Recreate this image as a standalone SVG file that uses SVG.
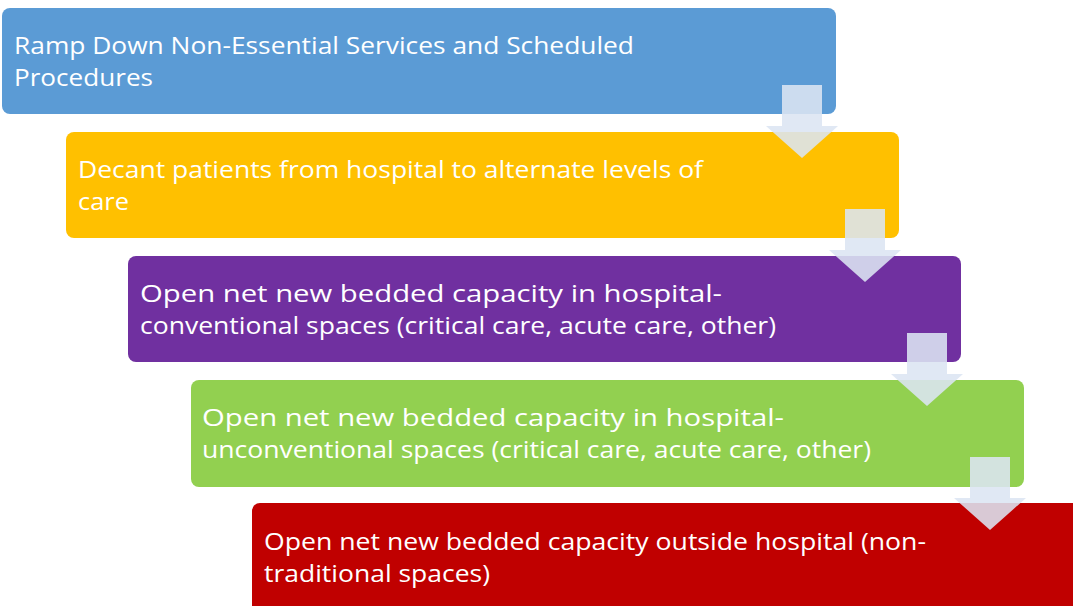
<svg xmlns="http://www.w3.org/2000/svg" width="1073" height="606" viewBox="0 0 1073 606">
<style>
.box{stroke:none}
.t{font-family:"Open Sans","Liberation Sans",sans-serif;font-size:23px;fill:#ffffff}
.arr{fill:#DCE5F3;fill-opacity:0.88}
</style>
<defs>
<path id="arrow" d="M-20,0 H20 V41 H36 L0,73 L-36,41 H-20 Z"/>
</defs>
<rect width="1073" height="606" fill="#ffffff"/>
<g id="node1">
<rect class="box" x="2" y="8" width="834" height="106" rx="8" fill="#5B9BD5"/>
<text class="t" x="14" y="54" textLength="620" lengthAdjust="spacingAndGlyphs">Ramp Down Non-Essential Services and Scheduled</text>
<text class="t" x="14" y="86" textLength="139" lengthAdjust="spacingAndGlyphs">Procedures</text>
</g>
<g id="node2">
<rect class="box" x="66" y="132" width="833" height="106" rx="8" fill="#FFC000"/>
<text class="t" x="78" y="178" textLength="625" lengthAdjust="spacingAndGlyphs">Decant patients from hospital to alternate levels of</text>
<text class="t" x="78" y="210" textLength="51" lengthAdjust="spacingAndGlyphs">care</text>
</g>
<g id="node3">
<rect class="box" x="128" y="256" width="833" height="106" rx="8" fill="#7030A0"/>
<text class="t" x="140" y="302" textLength="582" lengthAdjust="spacingAndGlyphs">Open net new bedded capacity in hospital-</text>
<text class="t" x="140" y="334" textLength="636" lengthAdjust="spacingAndGlyphs">conventional spaces (critical care, acute care, other)</text>
</g>
<g id="node4">
<rect class="box" x="191" y="380" width="833" height="107" rx="8" fill="#92D050"/>
<text class="t" x="202" y="426" textLength="582" lengthAdjust="spacingAndGlyphs">Open net new bedded capacity in hospital-</text>
<text class="t" x="202" y="458" textLength="669" lengthAdjust="spacingAndGlyphs">unconventional spaces (critical care, acute care, other)</text>
</g>
<g id="node5">
<rect class="box" x="252" y="503" width="840" height="120" rx="8" fill="#C00000"/>
<text class="t" x="264" y="550" textLength="662" lengthAdjust="spacingAndGlyphs">Open net new bedded capacity outside hospital (non-</text>
<text class="t" x="264" y="582" textLength="226" lengthAdjust="spacingAndGlyphs">traditional spaces)</text>
</g>
<g id="connectors">
<use href="#arrow" class="arr" x="802" y="85"/>
<use href="#arrow" class="arr" x="865" y="209"/>
<use href="#arrow" class="arr" x="927" y="333"/>
<use href="#arrow" class="arr" x="990" y="457"/>
</g>
</svg>
